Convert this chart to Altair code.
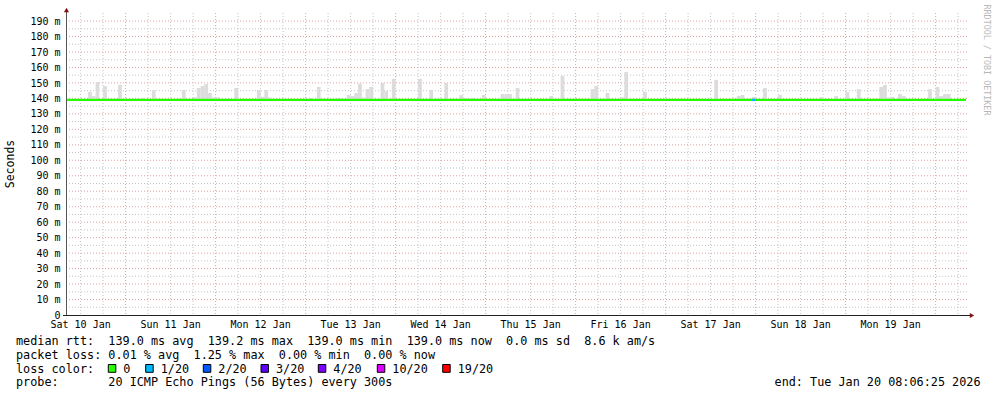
import altair as alt
import pandas as pd

# ---------------- data ----------------
REF = "2026-01-10 00:00:00"
START = "2026-01-10 08:06:25"
END = "2026-01-20 08:06:25"

smoke_time = [
    "2026-01-10 14:00", "2026-01-10 15:00", "2026-01-10 16:00", "2026-01-10 18:00", "2026-01-10 22:00",
    "2026-01-11 04:00", "2026-01-11 07:00", "2026-01-11 15:00", "2026-01-11 18:00", "2026-01-11 19:00",
    "2026-01-11 20:00", "2026-01-11 21:00", "2026-01-11 22:00", "2026-01-11 23:00",
    "2026-01-12 00:00", "2026-01-12 05:00", "2026-01-12 11:00", "2026-01-12 12:00", "2026-01-12 13:00",
    "2026-01-12 14:00",
    "2026-01-13 01:00", "2026-01-13 03:00", "2026-01-13 08:00", "2026-01-13 11:00", "2026-01-13 12:00",
    "2026-01-13 13:00", "2026-01-13 14:00", "2026-01-13 15:00", "2026-01-13 16:00", "2026-01-13 17:00",
    "2026-01-13 20:00", "2026-01-13 21:00", "2026-01-13 23:00",
    "2026-01-14 06:00", "2026-01-14 09:00", "2026-01-14 13:00", "2026-01-14 17:00", "2026-01-14 18:00",
    "2026-01-14 20:00", "2026-01-14 23:00",
    "2026-01-15 04:00", "2026-01-15 05:00", "2026-01-15 06:00", "2026-01-15 08:00", "2026-01-15 17:00",
    "2026-01-15 20:00",
    "2026-01-16 04:00", "2026-01-16 05:00", "2026-01-16 08:00", "2026-01-16 12:00", "2026-01-16 13:00",
    "2026-01-16 18:00",
    "2026-01-17 13:00", "2026-01-17 19:00", "2026-01-17 20:00", "2026-01-17 23:00",
    "2026-01-18 02:00", "2026-01-18 06:00", "2026-01-18 17:00", "2026-01-18 21:00",
    "2026-01-19 00:00", "2026-01-19 03:00", "2026-01-19 09:00", "2026-01-19 10:00", "2026-01-19 11:00",
    "2026-01-19 12:00", "2026-01-19 14:00", "2026-01-19 15:00", "2026-01-19 22:00",
    "2026-01-20 00:00", "2026-01-20 01:00", "2026-01-20 02:00", "2026-01-20 03:00",
]
smoke_top = [
    144.3, 141.5, 150.6, 148.0, 148.7,
    140.3, 145.4, 145.4, 140.7, 146.7,
    148.0, 149.3, 143.5, 140.7,
    140.7, 146.7, 145.4, 141.0, 145.4,
    140.5,
    140.3, 147.4, 140.3, 142.2, 141.5,
    143.5, 149.6, 140.5, 146.0, 147.4,
    150.0, 144.8, 152.6,
    152.6, 145.4, 150.0, 142.2, 140.3,
    140.3, 142.2,
    142.8, 142.8, 142.8, 146.7, 141.5,
    154.5,
    146.0, 148.0, 143.5, 140.7, 157.0,
    144.2,
    152.0, 141.5, 142.2, 141.0,
    146.7, 142.2, 140.7, 141.5,
    144.2, 146.0, 147.4, 148.7, 140.5,
    141.0, 142.8, 141.5, 146.0,
    147.4, 141.5, 142.8, 142.8,
]
median_rtt = 139.0

seg_start = [START, "2026-01-17 23:00"]
seg_end = [END, "2026-01-18 00:00"]
seg_color = ["#26ff00", "#00b8ff"]

day_labels = ["Sat 10 Jan", "Sun 11 Jan", "Mon 12 Jan", "Tue 13 Jan", "Wed 14 Jan",
              "Thu 15 Jan", "Fri 16 Jan", "Sat 17 Jan", "Sun 18 Jan", "Mon 19 Jan"]
day_noon = ["2026-01-10 12:00", "2026-01-11 12:00", "2026-01-12 12:00", "2026-01-13 12:00",
            "2026-01-14 12:00", "2026-01-15 12:00", "2026-01-16 12:00", "2026-01-17 12:00",
            "2026-01-18 12:00", "2026-01-19 12:00"]
y_major = [0, 10, 20, 30, 40, 50, 60, 70, 80, 90, 100, 110, 120, 130, 140, 150, 160, 170, 180, 190]
y_labels = ["0  ", "10 m", "20 m", "30 m", "40 m", "50 m", "60 m", "70 m", "80 m", "90 m",
            "100 m", "110 m", "120 m", "130 m", "140 m", "150 m", "160 m", "170 m", "180 m", "190 m"]
y_minor = [5, 15, 25, 35, 45, 55, 65, 75, 85, 95, 105, 115, 125, 135, 145, 155, 165, 175, 185]

rtt_stats = ["139.0 ms avg", "139.2 ms max", "139.0 ms min", "139.0 ms now", "0.0 ms sd", "8.6 k am/s"]
loss_stats = ["0.01 % avg", "1.25 % max", "0.00 % min", "0.00 % now"]
legend_labels = ["0", "1/20", "2/20", "3/20", "4/20", "10/20", "19/20"]
legend_colors = ["#26ff00", "#00b8ff", "#0059ff", "#5e00ff", "#7e00ff", "#dd00ff", "#ff0000"]
probe_text = "20 ICMP Echo Pings (56 Bytes) every 300s"
end_text = "end: Tue Jan 20 08:06:25 2026"
y_title = "Seconds"
watermark = "RRDTOOL / TOBI OETIKER"

# ---------------- layout ----------------
W, H = 900, 302
PAD_L, PAD_T = 66, 13
MONO = "DejaVu Sans Mono"
LEGEND_BOX_X = [108.3, 145.7, 203.3, 261.0, 318.3, 377.3, 442.7]
NB = "\u00a0"


def hrs(s):
    return (pd.Timestamp(s) - pd.Timestamp(REF)).total_seconds() / 3600.0


x0, x1 = hrs(START), hrs(END)
xs = alt.Scale(domain=[x0, x1], nice=False, zero=False)
ys = alt.Scale(domain=[0, 195.2], nice=False, zero=False)

smoke_df = pd.DataFrame({"t0": [hrs(t) for t in smoke_time], "top": smoke_top})
smoke_df["t1"] = smoke_df["t0"] + 1.0
smoke_df["base"] = median_rtt

seg_df = pd.DataFrame({"s": [hrs(t) for t in seg_start], "e": [hrs(t) for t in seg_end],
                       "v": [median_rtt] * len(seg_start), "c": seg_color})

xlab_df = pd.DataFrame({"h": [hrs(t) for t in day_noon], "lab": [s.replace(" ", NB) for s in day_labels]})
ylab_df = pd.DataFrame({"v": y_major, "lab": [s.replace(" ", NB) for s in y_labels]})

x_major = [24 * d for d in range(1, 11)]
x_minor = [h for h in range(12, 249, 6) if h % 24 != 0]

one = pd.DataFrame({"d": [0]})

GREY = "#c4c4c4"
PINK = "#e4a2a2"

vminor = alt.Chart(pd.DataFrame({"h": x_minor})).mark_rule(color=GREY, strokeDash=[1, 2], strokeWidth=1).encode(
    x=alt.X("h:Q", scale=xs, axis=None), y=alt.value(0), y2=alt.value(H))
vmajor = alt.Chart(pd.DataFrame({"h": x_major})).mark_rule(color=PINK, strokeDash=[1, 2], strokeWidth=1).encode(
    x=alt.X("h:Q", scale=xs, axis=None), y=alt.value(0), y2=alt.value(H))
hminor = alt.Chart(pd.DataFrame({"v": y_minor})).mark_rule(color=GREY, strokeDash=[1, 2], strokeWidth=1).encode(
    y=alt.Y("v:Q", scale=ys, axis=None), x=alt.value(0), x2=alt.value(W + 2))
hmajor = alt.Chart(pd.DataFrame({"v": y_major[1:]})).mark_rule(color=PINK, strokeDash=[1, 2], strokeWidth=1).encode(
    y=alt.Y("v:Q", scale=ys, axis=None), x=alt.value(0), x2=alt.value(W + 2))

smoke = alt.Chart(smoke_df).mark_rect(color="#dcdcdc").encode(
    x=alt.X("t0:Q", scale=xs, axis=None),
    x2="t1:Q",
    y=alt.Y("top:Q", scale=ys, axis=None),
    y2="base:Q",
)

median = alt.Chart(seg_df).mark_rule(strokeWidth=2.3).encode(
    x=alt.X("s:Q", scale=xs, axis=None), x2="e:Q",
    y=alt.Y("v:Q", scale=ys, axis=None),
    color=alt.Color("c:N", scale=None),
)

xlabels = alt.Chart(xlab_df).mark_text(font=MONO, fontSize=10, color="#000000", align="center",
                                       baseline="alphabetic").encode(
    x=alt.X("h:Q", scale=xs, axis=None), y=alt.value(328 - PAD_T), text="lab:N")
ylabels = alt.Chart(ylab_df).mark_text(font=MONO, fontSize=10, color="#000000", align="right",
                                       baseline="alphabetic", dy=3.6).encode(
    y=alt.Y("v:Q", scale=ys, axis=None), x=alt.value(60.5 - PAD_L), text="lab:N")

yline = alt.Chart(one).mark_rule(color="#555555", strokeWidth=1).encode(
    x=alt.value(0.5), y=alt.value(-2), y2=alt.value(H + 1))
xline = alt.Chart(one).mark_rule(color="#222222", strokeWidth=1).encode(
    x=alt.value(-3), x2=alt.value(W + 5), y=alt.value(H + 0.5))
yarrow = alt.Chart(one).mark_point(shape="triangle-up", filled=True, size=26, color="#7f1010", opacity=1).encode(
    x=alt.value(0.5), y=alt.value(-3))
xarrow = alt.Chart(one).mark_point(shape="triangle-right", filled=True, size=26, color="#7f1010", opacity=1).encode(
    x=alt.value(W + 6), y=alt.value(H + 0.5))


def txt(s, x_abs, y_base_abs, align="left", size=11.8, color="#000000", angle=0, baseline="alphabetic"):
    return alt.Chart(pd.DataFrame({"t": [s]})).mark_text(
        font=MONO, fontSize=size, color=color, align=align, baseline=baseline, angle=angle
    ).encode(text="t:N", x=alt.value(x_abs - PAD_L), y=alt.value(y_base_abs - PAD_T))


line1 = ("median rtt:  " + "  ".join(rtt_stats)).replace(" ", NB)
line2 = ("packet loss: " + "  ".join(loss_stats)).replace(" ", NB)
line4 = ("probe:       " + probe_text).replace(" ", NB)

texts = [
    txt(line1, 16, 345),
    txt(line2, 16, 358.7),
    txt("loss" + NB + "color:", 16, 372.5),
    txt(line4, 16, 386),
    txt(end_text.replace(" ", NB), 980.5, 386, align="right"),
    txt(y_title, 11, 164, align="center", baseline="middle", size=11.5, angle=270),
    txt(watermark.replace(" ", NB), 987, 60, align="center", baseline="middle", size=8.4,
        color="#b8b8b8", angle=90),
]

legend_layers = []
for lab, col, bx in zip(legend_labels, legend_colors, LEGEND_BOX_X):
    legend_layers.append(
        alt.Chart(one).mark_rect(fill=col, stroke="#000000", strokeWidth=1).encode(
            x=alt.value(bx - PAD_L), x2=alt.value(bx - PAD_L + 7.5),
            y=alt.value(364.5 - PAD_T), y2=alt.value(372.3 - PAD_T)))
    legend_layers.append(txt(lab.replace(" ", NB), bx + 15, 372.5))

chart = alt.layer(
    vminor, hminor, vmajor, hmajor, smoke, median, yline, xline, yarrow, xarrow,
    xlabels, ylabels, *texts, *legend_layers
).properties(
    width=W, height=H,
    padding={"left": PAD_L, "top": PAD_T, "right": 997 - PAD_L - W, "bottom": 397 - PAD_T - H},
    autosize=alt.AutoSizeParams(type="none"),
    background="white",
).configure_view(stroke=None)

chart.save("out.html", embed_options={"renderer": "svg", "actions": False})
